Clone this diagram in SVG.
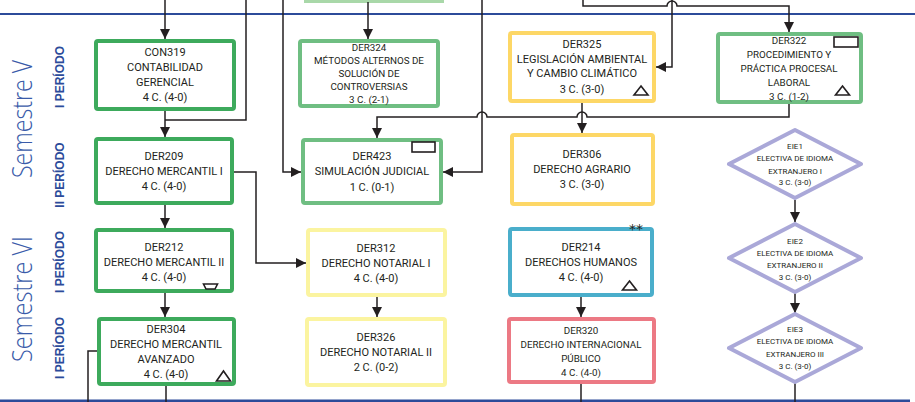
<svg xmlns="http://www.w3.org/2000/svg" width="915" height="402" viewBox="0 0 915 402">
<style>
.t{font-family:Roboto,"Liberation Sans",sans-serif;font-size:11px;fill:#231f20;text-anchor:middle}
.s{font-size:9.8px}
.d{font-size:8px}
.g{fill:#fff;stroke:#3daa5c;stroke-width:4}
.lg{fill:#fff;stroke:#6fbe82;stroke-width:4}
.y{fill:#fff;stroke:#fdd766;stroke-width:4}
.py{fill:#fff;stroke:#fbf4a0;stroke-width:4}
.b{fill:#fff;stroke:#4aaecb;stroke-width:4}
.r{fill:#fff;stroke:#ec7984;stroke-width:4}
.lv{fill:#fff;stroke:#aaa8d8;stroke-width:4;stroke-linejoin:round}
.c path{fill:none;stroke:#231f20;stroke-width:1.5}
.sym{fill:#fff;stroke:#231f20;stroke-width:1.6}
.sem{font-family:"Open Sans","Liberation Sans",sans-serif;font-weight:300;font-size:28px;fill:#3a5ba9;text-anchor:middle}
.per{font-family:"Liberation Sans",sans-serif;font-weight:bold;font-size:12px;fill:#2c4b9a;text-anchor:middle}
</style>
<defs>
<marker id="ah" viewBox="0 0 10 10" refX="10" refY="5" markerWidth="10" markerHeight="10" markerUnits="userSpaceOnUse" orient="auto"><path d="M0,0 L10,5 L0,10 z" fill="#231f20"/></marker>
</defs>
<rect width="915" height="402" fill="#fff"/>
<rect x="306" y="-20" width="136" height="21" fill="#fff" stroke="#a9d8a9" stroke-width="4"/>
<line x1="0" y1="14" x2="915" y2="14" stroke="#2c4b9a" stroke-width="2"/>
<line x1="0" y1="401" x2="910" y2="401" stroke="#2c4b9a" stroke-width="3"/>
<g id="labels">
<text class="sem" transform="translate(32,119) rotate(-90)" textLength="118" lengthAdjust="spacingAndGlyphs">Semestre V</text>
<text class="sem" transform="translate(32,299) rotate(-90)" textLength="126" lengthAdjust="spacingAndGlyphs">Semestre VI</text>
<text class="per" transform="translate(64,77) rotate(-90)">I PERÍODO</text>
<text class="per" transform="translate(64,175) rotate(-90)">II PERÍODO</text>
<text class="per" transform="translate(64,262) rotate(-90)">I PERÍODO</text>
<text class="per" transform="translate(64,348) rotate(-90)">I PERÍODO</text>
</g>
<g id="connectors" class="c">
<path d="M165,0 V39" marker-end="url(#ah)"/>
<path d="M246,0 V120 H165"/>
<path d="M165,111 V137" marker-end="url(#ah)"/>
<path d="M283,0 V172 H301" marker-end="url(#ah)"/>
<path d="M368,2 V39" marker-end="url(#ah)"/>
<path d="M482,0 V172 H443" marker-end="url(#ah)"/>
<path d="M789,104 V117 H587 a5,5 0 0 0 -10,0 H487 a5,5 0 0 0 -10,0 H377 V138" marker-end="url(#ah)"/>
<path d="M582,103 V133" marker-end="url(#ah)"/>
<path d="M583,0 V6 H667 a5,5 0 0 1 10,0 H789 V32" marker-end="url(#ah)"/>
<path d="M672,0 V67 H656" marker-end="url(#ah)"/>
<path d="M234,172 H256 V263 H306" marker-end="url(#ah)"/>
<path d="M165,205 V228" marker-end="url(#ah)"/>
<path d="M165,293 V317" marker-end="url(#ah)"/>
<path d="M97,351 H88 V402"/>
<path d="M166,386 V402"/>
<path d="M377,297 V317" marker-end="url(#ah)"/>
<path d="M581,297 V317" marker-end="url(#ah)"/>
<path d="M581,384 V402"/>
<path d="M795,200 V222" marker-end="url(#ah)"/>
<path d="M795,293 V313" marker-end="url(#ah)"/>
<path d="M795,383 V402"/>
</g>
<g id="CON319"><rect class="g" x="96" y="41" width="138" height="68" rx="2"/>
<text class="t"><tspan x="165" y="56">CON319</tspan><tspan x="165" y="71">CONTABILIDAD</tspan><tspan x="165" y="86">GERENCIAL</tspan><tspan x="165" y="101">4 C. (4-0)</tspan></text></g>
<g id="DER209"><rect class="g" x="96" y="139" width="136" height="64" rx="2"/>
<text class="t"><tspan x="164" y="160">DER209</tspan><tspan x="164" y="175">DERECHO MERCANTIL I</tspan><tspan x="164" y="190">4 C. (4-0)</tspan></text></g>
<g id="DER212"><rect class="g" x="96" y="230" width="136" height="61" rx="2"/>
<text class="t"><tspan x="164" y="251">DER212</tspan><tspan x="164" y="266">DERECHO MERCANTIL II</tspan><tspan x="164" y="281">4 C. (4-0)</tspan></text>
<path class="sym" d="M203.5,284 H217.5 L215,289 H206 Z"/></g>
<g id="DER304"><rect class="g" x="99" y="319" width="135" height="65" rx="2"/>
<text class="t"><tspan x="166" y="333">DER304</tspan><tspan x="166" y="348">DERECHO MERCANTIL</tspan><tspan x="166" y="363">AVANZADO</tspan><tspan x="166" y="378">4 C. (4-0)</tspan></text>
<path class="sym" d="M223.5,371 L230.5,381 L216.5,381 Z"/></g>
<g id="DER324"><rect class="lg" x="300" y="41" width="138" height="65" rx="2"/>
<text class="t s"><tspan x="369" y="51">DER324</tspan><tspan x="369" y="64">MÉTODOS ALTERNOS DE</tspan><tspan x="369" y="77">SOLUCIÓN DE</tspan><tspan x="369" y="90">CONTROVERSIAS</tspan><tspan x="369" y="103">3 C. (2-1)</tspan></text></g>
<g id="DER423"><rect class="lg" x="303" y="140" width="138" height="63" rx="2"/>
<text class="t"><tspan x="372" y="160">DER423</tspan><tspan x="372" y="175">SIMULACIÓN JUDICIAL</tspan><tspan x="372" y="191">1 C. (0-1)</tspan></text>
<rect class="sym" x="412" y="142" width="23" height="10" stroke-width="1.3"/></g>
<g id="DER312"><rect class="py" x="308" y="230" width="137" height="65" rx="2"/>
<text class="t"><tspan x="376" y="252">DER312</tspan><tspan x="376" y="267">DERECHO NOTARIAL I</tspan><tspan x="376" y="282">4 C. (4-0)</tspan></text></g>
<g id="DER326"><rect class="py" x="307" y="319" width="138" height="66" rx="2"/>
<text class="t"><tspan x="376" y="341">DER326</tspan><tspan x="376" y="356">DERECHO NOTARIAL II</tspan><tspan x="376" y="371">2 C. (0-2)</tspan></text></g>
<g id="DER325"><rect class="y" x="510" y="33" width="144" height="68" rx="2"/>
<text class="t"><tspan x="582" y="48">DER325</tspan><tspan x="582" y="63">LEGISLACIÓN AMBIENTAL</tspan><tspan x="582" y="77">Y CAMBIO CLIMÁTICO</tspan><tspan x="582" y="93">3 C. (3-0)</tspan></text>
<path class="sym" d="M641,86 L648,95 L634,95 Z"/></g>
<g id="DER306"><rect class="y" x="512" y="135" width="141" height="69" rx="2"/>
<text class="t"><tspan x="582" y="158">DER306</tspan><tspan x="582" y="173">DERECHO AGRARIO</tspan><tspan x="582" y="188">3 C. (3-0)</tspan></text></g>
<g id="DER214"><rect class="b" x="510" y="229" width="142" height="66" rx="2"/>
<text class="t"><tspan x="581" y="251">DER214</tspan><tspan x="581" y="266">DERECHOS HUMANOS</tspan><tspan x="581" y="281">4 C. (4-0)</tspan></text>
<path class="sym" d="M629.5,281 L636.5,290 L622.5,290 Z"/>
<text x="636" y="234" font-family="DejaVu Sans,sans-serif" font-size="14" fill="#231f20" text-anchor="middle">**</text></g>
<g id="DER320"><rect class="r" x="509" y="319" width="145" height="63" rx="2"/>
<text class="t s"><tspan x="581" y="334">DER320</tspan><tspan x="581" y="348">DERECHO INTERNACIONAL</tspan><tspan x="581" y="362">PÚBLICO</tspan><tspan x="581" y="376">4 C. (4-0)</tspan></text></g>
<g id="DER322"><rect class="lg" x="718" y="34" width="143" height="68" rx="2"/>
<text class="t s"><tspan x="789" y="44">DER322</tspan><tspan x="789" y="58">PROCEDIMIENTO Y</tspan><tspan x="789" y="72">PRÁCTICA PROCESAL</tspan><tspan x="789" y="86">LABORAL</tspan><tspan x="789" y="100">3 C. (1-2)</tspan></text>
<rect class="sym" x="834" y="37" width="24" height="10" stroke-width="1.3"/>
<path class="sym" d="M842.5,86 L849.5,95 L835.5,95 Z"/></g>
<g id="EIE1"><path class="lv" d="M795,130 L861,164 L795,198 L729,164 Z"/>
<text class="t d"><tspan x="795" y="149">EIE1</tspan><tspan x="795" y="161">ELECTIVA DE IDIOMA</tspan><tspan x="795" y="174">EXTRANJERO I</tspan><tspan x="795" y="185">3 C. (3-0)</tspan></text></g>
<g id="EIE2"><path class="lv" d="M795,224 L861,258 L795,292 L729,258 Z"/>
<text class="t d"><tspan x="795" y="244">EIE2</tspan><tspan x="795" y="256">ELECTIVA DE IDIOMA</tspan><tspan x="795" y="268">EXTRANJERO II</tspan><tspan x="795" y="280">3 C. (3-0)</tspan></text></g>
<g id="EIE3"><path class="lv" d="M795,314 L861,348 L795,382 L729,348 Z"/>
<text class="t d"><tspan x="795" y="332">EIE3</tspan><tspan x="795" y="344">ELECTIVA DE IDIOMA</tspan><tspan x="795" y="357">EXTRANJERO III</tspan><tspan x="795" y="369">3 C. (3-0)</tspan></text></g>
</svg>
